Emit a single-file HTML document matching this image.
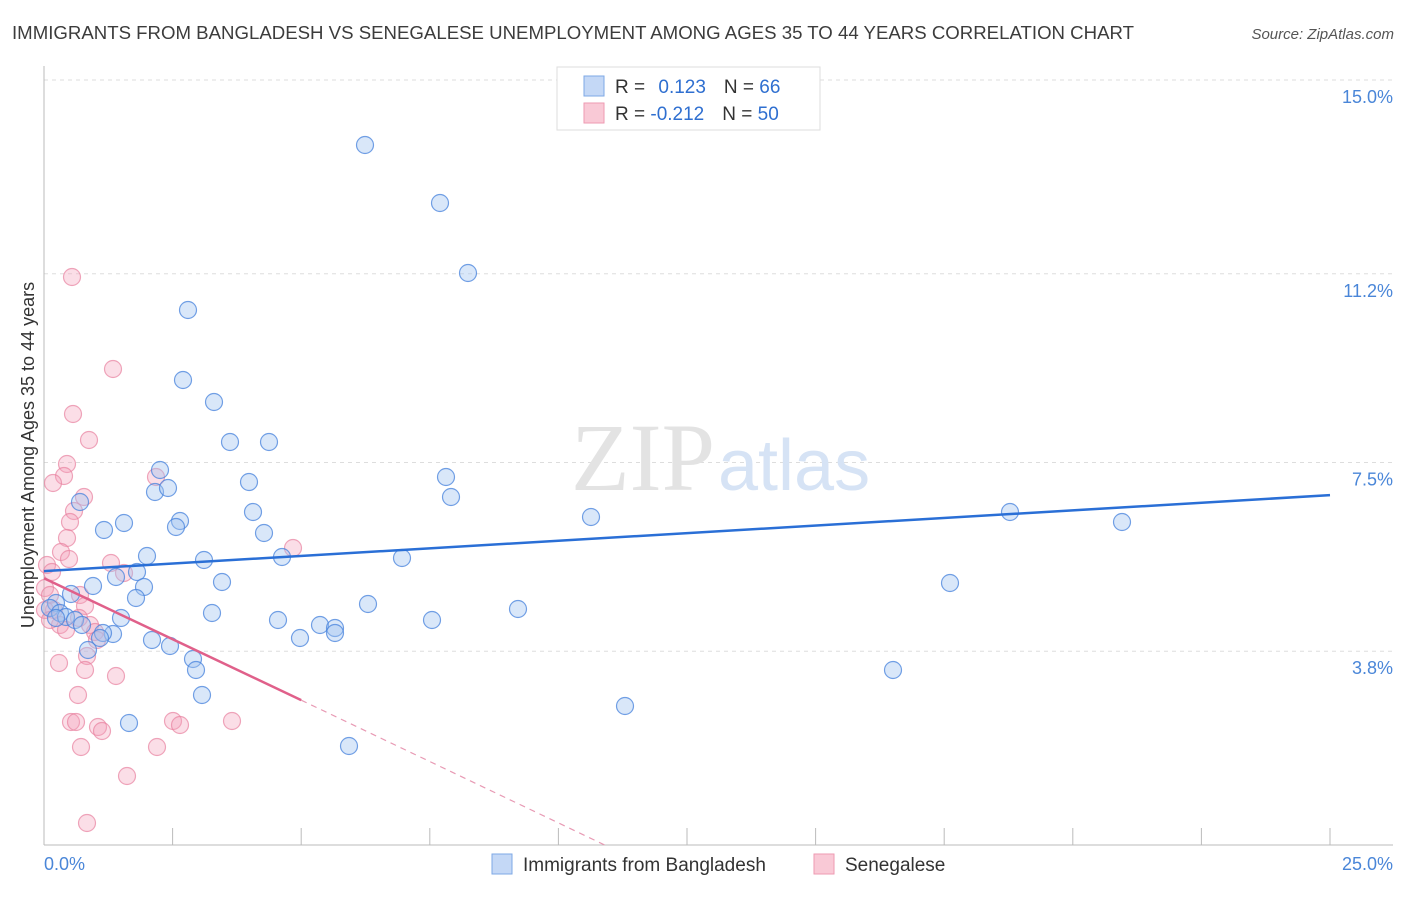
<!DOCTYPE html>
<html><head><meta charset="utf-8"><style>
body{margin:0;background:#fff;font-family:"Liberation Sans",sans-serif}
</style></head><body>
<svg width="1406" height="892" xmlns="http://www.w3.org/2000/svg">
<text x="12" y="39" font-size="18" fill="#3c3c3c" textLength="1122" lengthAdjust="spacingAndGlyphs">IMMIGRANTS FROM BANGLADESH VS SENEGALESE UNEMPLOYMENT AMONG AGES 35 TO 44 YEARS CORRELATION CHART</text>
<text x="1394" y="39" font-size="15" fill="#555" text-anchor="end" font-style="italic">Source: ZipAtlas.com</text>
<g id="grid"></g>
<line x1="44" y1="66" x2="44" y2="845" stroke="#bbb"/>
<line x1="44" y1="845" x2="1393" y2="845" stroke="#bbb"/>
<g id="xticks"></g>
<text x="715" y="490" font-size="96" fill="#e3e3e3" text-anchor="end" font-family="Liberation Serif">ZIP</text>
<text x="718" y="490" font-size="72" fill="#d6e3f5">atlas</text>
<text transform="translate(34,455) rotate(-90)" font-size="18" fill="#333" text-anchor="middle">Unemployment Among Ages 35 to 44 years</text>
<text x="44" y="870" font-size="18" fill="#4a86d8">0.0%</text>
<text x="1393" y="870" font-size="18" fill="#4a86d8" text-anchor="end">25.0%</text>
<g id="pts"></g>
<g id="lines"></g>
<g>
<rect x="557" y="67" width="263" height="63" fill="#fff" stroke="#ddd"/>
<rect x="584" y="76" width="20" height="20" fill="#c4d8f6" stroke="#7ea8e6"/>
<rect x="584" y="103" width="20" height="20" fill="#f9c9d6" stroke="#ee9ab2"/>
<text x="615" y="93" font-size="19" fill="#333">R = <tspan fill="#2f6fd0" dx="8">0.123</tspan><tspan dx="18" fill="#333">N = </tspan><tspan fill="#2f6fd0">66</tspan></text>
<text x="615" y="120" font-size="19" fill="#333">R = <tspan fill="#2f6fd0">-0.212</tspan><tspan dx="18" fill="#333">N = </tspan><tspan fill="#2f6fd0">50</tspan></text>
</g>
<g>
<rect x="492" y="854" width="20" height="20" fill="#c4d8f6" stroke="#7ea8e6"/>
<text x="523" y="871" font-size="19" fill="#333">Immigrants from Bangladesh</text>
<rect x="814" y="854" width="20" height="20" fill="#f9c9d6" stroke="#ee9ab2"/>
<text x="845" y="871" font-size="19" fill="#333">Senegalese</text>
</g>
</svg>
<script>
const yTicks=[15.0,11.2,7.5,3.8];
const yTickLabels=["15.0%","11.2%","7.5%","3.8%"];
const blueX=[365,440,468,188,183,214,230,269,160,155,168,249,446,451,80,253,124,180,176,104,591,1010,1122,264,147,204,282,402,137,116,222,144,93,950,136,71,368,212,518,56,50,60,66,121,278,432,56,75,82,320,335,335,113,103,100,300,152,170,88,193,196,893,202,625,129,349].map(p=>(p-44)/51.44);
const blueY=[145,203,273,310,380,402,442,442,470,492,488,482,477,497,502,512,523,521,527,530,517,512,522,533,556,560,557,558,572,577,582,587,586,583,598,594,604,613,609,603,608,613,617,618,620,620,618,620,625,625,628,633,634,633,638,638,640,646,650,659,670,670,695,706,723,746].map(p=>15-(p-80)/51.0);
const pinkX=[72,113,73,89,67,64,53,156,84,74,70,67,61,69,111,293,47,52,124,45,50,80,85,54,79,90,60,66,95,97,87,59,85,116,78,71,76,98,102,232,173,180,81,157,127,87,45,50].map(p=>(p-44)/51.44);
const pinkY=[277,369,414,440,464,476,483,477,497,511,522,538,552,559,563,548,565,572,573,588,595,595,606,610,618,625,625,630,632,640,656,663,670,676,695,722,722,727,731,721,721,725,747,747,776,823,610,620].map(p=>15-(p-80)/51.0);
const blueLine=[[0,5.37],[25,6.86]];
const pinkLine=[[0,5.23],[5,2.84],[10.9,0]];
const sx=v=>44+v*51.44, sy=v=>80+(15-v)*51.0;
const NS="http://www.w3.org/2000/svg";
function mk(t,a,parent){const e=document.createElementNS(NS,t);for(const k in a)e.setAttribute(k,a[k]);parent.appendChild(e);return e;}
const grid=document.getElementById('grid');
yTicks.forEach((t,i)=>{
 const l=mk('line',{x1:44,x2:1393,y1:sy(t),y2:sy(t),stroke:'#ddd','stroke-dasharray':'4,4'},grid);
 
 
 const tx=mk('text',{x:1393,y:sy(t)+23,'font-size':18,fill:'#4a86d8','text-anchor':'end'},grid);
 tx.textContent=yTickLabels[i];
 
 
});
const xt=document.getElementById('xticks');
for(let i=1;i<=10;i++){const l=mk('line',{x1:sx(i*2.5),x2:sx(i*2.5),y1:828,y2:845,stroke:'#bbb'},xt);
 
 }
const pts=document.getElementById('pts');
pinkX.forEach((x,i)=>{const c=mk('circle',{cx:sx(x),cy:sy(pinkY[i]),r:8.5,fill:'rgba(244,160,186,0.35)',stroke:'rgba(232,130,160,0.7)','stroke-width':1.2},pts);
 
 });
blueX.forEach((x,i)=>{const c=mk('circle',{cx:sx(x),cy:sy(blueY[i]),r:8.5,fill:'rgba(160,195,240,0.4)',stroke:'rgba(70,130,220,0.75)','stroke-width':1.2},pts);
 
 });
const lg=document.getElementById('lines');
const bl=mk('line',{x1:sx(blueLine[0][0]),y1:sy(blueLine[0][1]),x2:sx(blueLine[1][0]),y2:sy(blueLine[1][1]),stroke:'#2a6fd6','stroke-width':2.5},lg);


const pl=mk('line',{x1:sx(pinkLine[0][0]),y1:sy(pinkLine[0][1]),x2:sx(pinkLine[1][0]),y2:sy(pinkLine[1][1]),stroke:'#e0608a','stroke-width':2.5},lg);


const pd=mk('line',{x1:sx(pinkLine[1][0]),y1:sy(pinkLine[1][1]),x2:sx(pinkLine[2][0]),y2:sy(pinkLine[2][1]),stroke:'#e89ab4','stroke-width':1.2,'stroke-dasharray':'6,5'},lg);


</script>
</body></html>
